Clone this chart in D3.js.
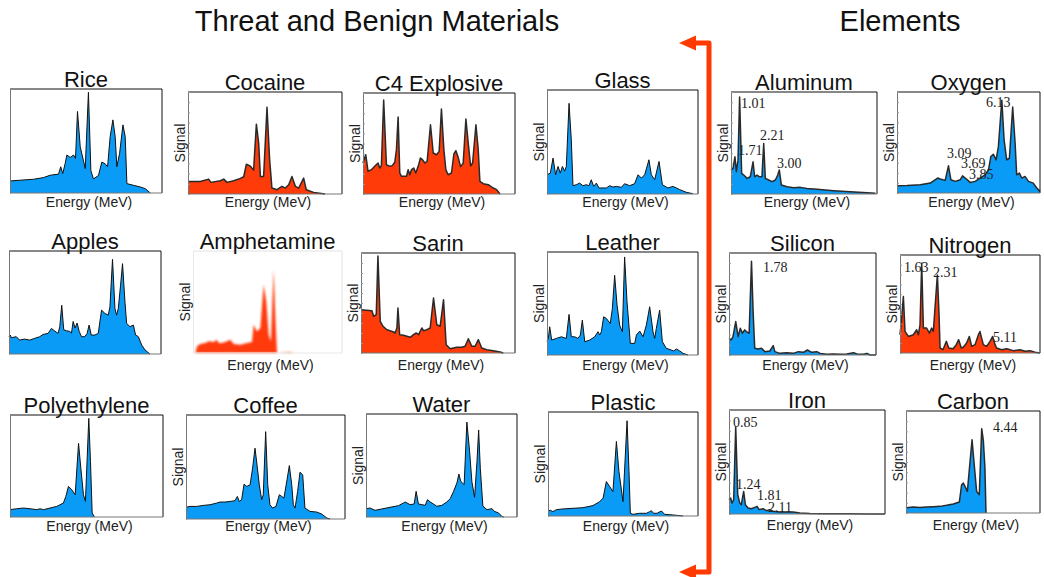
<!DOCTYPE html>
<html>
<head>
<meta charset="utf-8">
<script src="https://cdn.jsdelivr.net/npm/d3@7/dist/d3.min.js"></script>
<style>
  body { margin: 0; background: #fff; }
  svg { display: block; font-family: "Liberation Sans", Arial, sans-serif; }
</style>
</head>
<body>
<div id="chart"></div>
<script>
// spectra: [energy (% of axis), signal (% of axis)]
const rice = [[0,11.6],[6.6,12.3],[15.4,13.2],[22,14.8],[26.4,17.1],[31.9,18.1],[33.4,25.2],[34.7,18.7],[36.3,28.4],[37.4,36.5],[39.6,34.2],[41.8,36.5],[43.1,33.2],[44.4,78.4],[46.2,44.5],[49.5,23.5],[51.6,96.8],[53.2,21.6],[54.9,13.5],[58.2,16.8],[60.4,29.7],[62.6,28.1],[64.2,25.2],[65.9,54.2],[67.7,70.3],[69.2,54.2],[70.3,25.2],[72.1,38.1],[74.3,65.5],[75.8,54.2],[76.9,9],[81.3,7.4],[85.7,5.8],[89,4.2],[92.3,0]];
const cocaine = [[0,12.3],[8,12.3],[13.4,14.6],[14.9,11.4],[21,13],[23.2,14.6],[25.3,11.4],[29.7,13],[34,15.3],[36.2,16.9],[37.9,29.2],[40.5,27.3],[42.6,23.4],[44.4,68.5],[45.9,49.7],[47,17.2],[49.1,17.2],[51.3,85.1],[53,33.8],[54.5,5.8],[57.8,4.2],[61,7.5],[63.2,5.8],[65.4,9.1],[67.5,17.2],[69.7,7.5],[71.9,5.8],[75.1,15.6],[76.8,4.2],[81.6,1.6],[89,0]];
const c4 = [[0,30.7],[1.8,38.9],[3.3,22.4],[5.5,24.1],[7.7,27.4],[9.9,30.7],[11,25.7],[12.1,28.1],[13.6,93.1],[15.4,29],[17.6,27.4],[19.3,28.1],[20.9,31.4],[22,43.9],[23.1,76.2],[24.2,20.8],[25.3,17.5],[28.6,17.5],[29.7,24.1],[30.8,19.1],[31.9,24.1],[33.4,25.7],[34.7,20.8],[36.3,27.4],[37.8,35.6],[39.1,34],[40.7,30.7],[42.2,32.3],[44.4,68.6],[46.2,40.6],[48.4,38.9],[50.1,42.2],[51.6,84.2],[53.2,43.9],[54.5,24.1],[56,19.1],[58.2,20.8],[59.8,39.6],[61.1,42.9],[62.6,36.3],[64.2,27.1],[65.9,30.4],[67.7,74.3],[69.2,50.8],[70.8,27.7],[72.1,30.7],[74.3,68.6],[75.8,43.9],[76.9,12.5],[79.1,10.2],[82.4,9.2],[85.7,5.9],[87.9,4.3],[90.1,0]];
const glass = [[0,18.5],[2.2,20.1],[4,34.5],[5.7,18.5],[7.3,26.5],[8.8,20.1],[10.2,26.5],[11.7,22],[12.8,26.5],[14.6,87.2],[16.1,52.1],[17.2,8],[19.4,8.9],[21.6,10.5],[23.8,8],[26,8.9],[27.8,8],[29.3,13.7],[30.9,7.3],[32.7,10.5],[34.4,5.8],[37.1,5.8],[39.3,5.8],[41.5,8],[43.7,6.7],[45.9,7.3],[49.2,6.4],[51.4,9.9],[54.7,8],[58,9.9],[60.3,18.5],[62.5,15.3],[64.7,18.5],[67.5,32.9],[69.1,18.5],[71.3,13.7],[74.2,31.3],[76.4,8.9],[80.1,5.8],[83.4,7.3],[85.7,5.8],[87.9,4.2],[92.3,1.6],[96.7,0.3]];
const aluminum = [[0,23.5],[1.4,25.1],[2.7,36.5],[3.7,21.8],[4.8,33.2],[5.9,95],[7.3,20.2],[8.7,18.6],[11,15.3],[13.2,16.9],[15.1,31.6],[16.2,16.9],[17.8,18.6],[19.6,16.9],[21.2,16.9],[22.4,49.5],[23.5,15.3],[25.8,13.7],[28.1,12.1],[30.4,13.7],[32,18.6],[33.1,23.5],[34.5,8.8],[38.4,7.2],[42.9,6.2],[47.5,6.5],[52,5.5],[58.9,4.6],[70.3,3.3],[81.7,2.3],[93.2,1.3],[98.9,0.7]];
const oxygen = [[0,7.2],[7,7.5],[16.3,8.2],[23.3,9.8],[28.4,14.8],[30.2,13.8],[33.7,12.5],[36,26.9],[37.7,13.1],[40.7,11.5],[44.2,13.1],[45.8,17],[47.7,14.8],[51.2,10.5],[54.7,11.5],[58.1,14.8],[61.6,18],[64,23],[65.6,36.1],[67.4,38.4],[69.3,32.8],[70.9,45.9],[73.3,91.8],[74.9,52.5],[76.7,32.8],[78.6,34.4],[80.9,85.2],[82.6,49.2],[83.7,18],[85.6,19.7],[87.2,14.8],[89.5,16.4],[91.9,11.5],[95.3,9.8],[97.7,4.9],[100,1.6]];
const apples = [[0,16.8],[0.9,18.4],[1.5,15.8],[4.8,16.8],[7,13.5],[10.3,14.5],[13.6,13.5],[16.9,15.2],[20.2,16.8],[22.4,19],[25.7,20],[27.9,24.8],[30.1,22.3],[32.3,20],[33.4,26.5],[34.7,47.4],[36,23.5],[37.8,22.6],[40,21.9],[41.1,20.3],[42.2,31.6],[43.5,25.2],[44.8,30],[46.2,21.9],[47.7,16.8],[49.9,16.8],[51.4,20],[52.7,28.1],[54.1,18.4],[56.5,18.4],[58.7,20],[60.9,42.6],[63.1,39.4],[65.3,37.7],[66.4,45.8],[68.1,91.9],[69.7,44.2],[70.8,37.7],[71.9,44.2],[73.4,66.8],[74.7,87.7],[76.3,50.3],[77.4,29.7],[79.6,26.5],[81.8,28.1],[83.3,18.4],[85.1,16.8],[87.3,8.7],[89.5,3.9],[92.7,0]];
const amphetamine = [[1.6,0],[2.7,6.5],[4.9,8.8],[8.3,9.8],[10.5,11.4],[13.9,10.7],[16.1,13],[17.2,9.8],[19.5,9.8],[22.8,11.4],[25.1,13],[27.3,8.8],[31.8,8.1],[36.2,9.8],[39.6,10.7],[40.7,27.7],[42.9,21.2],[45.2,24.4],[47.4,66.8],[49.2,50.5],[50.8,18],[52.3,11.4],[54.1,81.4],[55.5,27.7],[56.4,0],[65.3,0.7],[67.6,0]];
const sarin = [[0,43.3],[7.1,42.3],[8.2,36.7],[9.9,38.3],[11,97],[12.5,31.7],[14.3,26.7],[16.8,23.3],[21.2,21],[22.2,20],[23.3,25],[24,45],[25.1,18.3],[27.6,17.7],[29.8,16.7],[32,15.7],[34.1,18.3],[35.9,20],[37.4,18.3],[39.5,25],[40.6,22.3],[42.8,23.3],[44.9,25],[47.1,55],[49.2,28.3],[51.4,26.7],[53.6,53.3],[55.3,8.3],[57.9,4.3],[62.2,5.7],[65.4,5.7],[67.6,6.7],[69.7,14.3],[71.9,6.7],[74.1,6.7],[76.2,13.3],[78.4,5],[81.6,3.3],[85.9,2.3],[90.3,1],[92.4,0]];
const leather = [[0,13.5],[0.9,16.1],[1.8,27.4],[3.1,14.5],[6.2,16.1],[9.5,17.7],[12.8,16.1],[14.6,39.4],[16.1,17.7],[18.3,17.7],[20.5,16.1],[22.1,19.4],[23.4,33.9],[25,12.9],[28.3,14.5],[31.6,17.7],[33.8,22.6],[34.9,19.4],[36,22.6],[37.5,37.1],[39.3,35.5],[41.9,30.6],[43.3,45.2],[44.8,77.4],[46.4,48.4],[48.1,29],[49.9,22.6],[51.4,95.2],[53,51.6],[55.2,11.3],[58.1,11.3],[59.2,19.4],[61.4,23.2],[63.6,17.7],[65.8,29],[68,46.8],[70.2,22.6],[71.3,16.1],[72.4,25.8],[74.6,43.5],[76.4,12.9],[79,6.5],[82.3,4.8],[83.9,3.9],[85.7,5.8],[87.9,3.9],[90.1,1.6],[93.4,0]];
const silicon = [[0,16.4],[1.6,14.8],[2.7,18],[4.6,32.8],[6.2,18],[7.7,26.2],[9.1,21.3],[10.7,24.6],[11.8,23],[13.7,21.3],[15.3,91.8],[16.4,42.6],[17.5,6.6],[19.8,5.9],[22.1,6.6],[24.4,3.3],[27.8,3.9],[30.1,9.2],[31.2,3.3],[34.6,1.6],[39.2,2.3],[43.7,1.6],[47.2,3.3],[50.6,2.6],[53.3,4.9],[56.3,2.6],[59.7,3.3],[62,1.6],[66.5,0.7],[71.1,1],[75.6,0.7],[80.2,1],[84.7,2.3],[87,1],[91.6,0.7],[93.8,1.6],[96.1,0],[100,0]];
const nitrogen = [[0,18.6],[1.2,35.6],[2.4,57.6],[3.6,22],[6,16.9],[9.5,18.6],[11.9,23.7],[13.1,18.6],[14.3,28.8],[15.5,91.5],[16.7,25.4],[19,25.4],[21,20.3],[22.6,25.4],[23.8,22],[26.7,79.7],[27.9,39],[28.6,5.1],[30.7,3.4],[33.1,11.9],[34.8,5.1],[37.9,4.4],[40.2,8.5],[41.9,13.6],[43.8,5.1],[45.2,5.8],[47.6,10.2],[49.5,16.9],[51.2,6.8],[53.6,8.5],[56,18.6],[57.1,22],[59.5,8.5],[61.9,6.8],[64.3,11.9],[66.2,16.9],[67.9,8.5],[69,5.1],[72.6,3.4],[76.2,4.4],[81,2.4],[85.7,3.4],[89.3,1.7],[92.9,2.4],[96.4,0.7],[100,0]];
const polyethylene = [[0,7.2],[4.4,8.1],[8.7,8.8],[13.1,8.1],[17.5,7.2],[19.7,8.1],[21.8,7.2],[26.2,8.8],[30.6,10.4],[34.9,13.7],[36.5,20.2],[38.2,30],[40.4,26.7],[42.6,21.8],[44.8,72.3],[46.3,47.9],[48,21.8],[49.3,15.3],[51.5,96.7],[52.6,54.4],[53.7,3.9],[55.2,0]];
const coffee = [[0,11.2],[2.5,12.1],[6.7,12.1],[10.9,13.1],[15.1,13.7],[19.3,15.3],[21.4,16.3],[24.5,16.3],[27.7,16.9],[30.8,17.6],[32.3,21.7],[33.5,16.9],[35,18.5],[36.5,33.5],[38.2,31.3],[40.3,32.9],[41.9,48.9],[43.4,68.1],[44.9,48.9],[46.1,32.9],[47.6,18.5],[48.6,23.3],[50.1,84],[51.4,32.9],[52.8,13.7],[54.5,10.5],[56.6,12.1],[58.7,23.3],[60.2,21.7],[61.6,20.1],[63.7,39.3],[65,51.4],[66.5,32.9],[67.5,13.7],[68.6,10.5],[70.2,26.5],[71.7,45],[73.4,42.5],[74.8,10.5],[78,7.3],[82.2,6.7],[85.3,4.8],[88.5,1],[90.6,0]];
const water = [[0,8.1],[2.7,8.7],[6,6.5],[10.4,7.8],[15.9,9.4],[21.5,11],[24.8,13.6],[25.9,14.6],[29.2,12],[31.9,12.6],[33.2,24.9],[34.7,12.6],[37,12],[39.2,11.3],[40.7,16.8],[42.5,14.6],[44.7,12.6],[46.9,10.4],[50.2,11.3],[53.5,14.6],[55.8,17.8],[58,24.9],[60.2,33],[61.5,41.7],[62.8,34.6],[65,31.4],[66.8,92.2],[68.6,63.8],[70.1,34.6],[71.9,19.1],[73.5,54],[74.6,84.5],[75.7,47.3],[77.4,10.7],[80.1,7.1],[83.4,8.1],[85,5.5],[87.8,3.9],[90,0.6],[91.2,0]];
const plastic = [[0,4.8],[1.6,5.5],[3.3,4.2],[5.6,6.1],[10,6.8],[16.7,7.4],[23.3,8],[30,10],[34.4,13.8],[36.7,17],[38.9,33.1],[41.1,28.3],[43.3,23.5],[45.6,71.7],[47.3,42.8],[50,13.8],[52.7,91.6],[54,42.8],[54.9,2.6],[56.7,1.6],[61.1,2.6],[65.6,2.6],[67.8,4.2],[68.9,5.1],[70.4,2.6],[72.7,2.6],[75.6,4.8],[77.8,1.6],[83.3,1],[90,0]];
const iron = [[0,13.7],[1.1,15.3],[1.9,10.5],[3,13.7],[4.3,84],[5.6,18.5],[6.9,10.5],[7.9,8.9],[9.4,21.7],[10.5,8.9],[12.2,5.8],[14.3,5.1],[16.5,6.4],[18,7.3],[19.3,4.2],[21.8,5.1],[24,3.2],[26.1,4.2],[28.3,2.6],[32.5,1.9],[36.8,1.9],[41.1,1.9],[45.4,1],[51.8,0.6],[62.5,0.3],[77.5,0.3],[88.2,0],[100,0]];
const carbon = [[0,4.9],[1.7,5.5],[5.5,5.9],[10.4,5.5],[15.4,5.9],[20.4,6.2],[25.4,6.5],[30.3,7.5],[35.3,8.8],[39.8,10.7],[41.5,27.7],[42.8,29.3],[44,26.1],[45.8,21.2],[47.8,50.5],[49.3,71.7],[50.7,50.5],[52.7,21.2],[54.7,17.9],[56.5,82.7],[57.7,71.3],[58.9,44.6],[59.7,0]];

// gamma line labels (MeV) with their anchor in the same energy/signal units
const aluminumLines = [["1.01",6.8,84.3],["1.71",4.8,38.2],["2.21",19.9,52.9],["3.00",31.5,25.5]];
const oxygenLines = [["6.13",62.2,85.1],["3.09",35,34.7],["3.69",44.8,24.8],["3.85",50.3,13.9]];
const siliconLines = [["1.78",23.1,81.4]];
const nitrogenLines = [["1.63",2.9,82.7],["2.31",23.6,77.6],["5.11",66.4,11.2]];
const ironLines = [["0.85",2.6,83.7],["1.24",4.5,24],["1.81",17.9,13.5],["2.11",25,1.9]];
const carbonLines = [["4.44",64.9,79.4]];

const BLUE = "#0a9bf6", RED = "#ff3b0a", ARROW = "#ff3a00";

// layout: style "plain" = crisp outline, "soft" = blurred outline, "faded" = blurred fill only
const panels = [
  {title: "Rice", data: rice, x: 10, y: 89, w: 152, h: 104, fill: BLUE, style: "plain", signal: false, energy: 207},
  {title: "Cocaine", data: cocaine, x: 188, y: 92, w: 154, h: 102, fill: RED, style: "soft", signal: true, energy: 207},
  {title: "C4 Explosive", data: c4, x: 363, y: 93, w: 152, h: 101, fill: RED, style: "soft", signal: true, energy: 207},
  {title: "Glass", data: glass, x: 547, y: 90, w: 151, h: 104, fill: BLUE, style: "plain", signal: true, energy: 207},
  {title: "Aluminum", data: aluminum, x: 731, y: 92, w: 146, h: 102, fill: BLUE, style: "soft", signal: true, energy: 207, lines: aluminumLines},
  {title: "Oxygen", data: oxygen, x: 897, y: 92, w: 143, h: 101, fill: BLUE, style: "soft", signal: true, energy: 207, lines: oxygenLines},
  {title: "Apples", data: apples, x: 9, y: 251, w: 152, h: 103, fill: BLUE, style: "plain", signal: false, energy: null},
  {title: "Amphetamine", data: amphetamine, x: 193, y: 251, w: 149, h: 102, fill: RED, style: "faded", signal: true, energy: 370},
  {title: "Sarin", data: sarin, x: 361, y: 253, w: 154, h: 100, fill: RED, style: "soft", signal: true, energy: 370},
  {title: "Leather", data: leather, x: 547, y: 252, w: 151, h: 103, fill: BLUE, style: "plain", signal: true, energy: 370},
  {title: "Silicon", data: silicon, x: 729, y: 253, w: 147, h: 102, fill: BLUE, style: "soft", signal: true, energy: 370, lines: siliconLines},
  {title: "Nitrogen", data: nitrogen, x: 900, y: 255, w: 140, h: 98, fill: RED, style: "soft", signal: true, energy: 370, lines: nitrogenLines},
  {title: "Polyethylene", data: polyethylene, x: 10, y: 415, w: 153, h: 102, fill: BLUE, style: "plain", signal: false, energy: 531},
  {title: "Coffee", data: coffee, x: 186, y: 415, w: 159, h: 104, fill: BLUE, style: "plain", signal: true, energy: 531},
  {title: "Water", data: water, x: 366, y: 414, w: 151, h: 103, fill: BLUE, style: "plain", signal: true, energy: 531},
  {title: "Plastic", data: plastic, x: 548, y: 412, w: 150, h: 104, fill: BLUE, style: "plain", signal: true, energy: 531},
  {title: "Iron", data: iron, x: 729, y: 410, w: 156, h: 104, fill: BLUE, style: "soft", signal: true, energy: 530, lines: ironLines},
  {title: "Carbon", data: carbon, x: 906, y: 411, w: 134, h: 102, fill: BLUE, style: "soft", signal: true, energy: 530, lines: carbonLines}
];

const svg = d3.select("#chart").append("svg")
  .attr("width", 1044)
  .attr("height", 577);

const defs = svg.append("defs");
defs.append("filter").attr("id", "soft").attr("x", "-5%").attr("y", "-5%").attr("width", "110%").attr("height", "110%")
  .append("feGaussianBlur").attr("stdDeviation", 0.7);
defs.append("filter").attr("id", "faded").attr("x", "-5%").attr("y", "-5%").attr("width", "110%").attr("height", "110%")
  .append("feGaussianBlur").attr("stdDeviation", 0.8);

// headings
svg.append("text").attr("x", 377).attr("y", 31).attr("text-anchor", "middle")
  .attr("font-size", 29).attr("fill", "#111").text("Threat and Benign Materials");
svg.append("text").attr("x", 900).attr("y", 31).attr("text-anchor", "middle")
  .attr("font-size", 29).attr("fill", "#111").text("Elements");

panels.forEach(p => {
  const g = svg.append("g").attr("transform", `translate(${p.x},${p.y})`);

  const xScale = d3.scaleLinear().domain([0, 100]).range([0, p.w]);
  const yScale = d3.scaleLinear().domain([0, 100]).range([p.h, 0]);

  const area = d3.area()
    .x(d => xScale(d[0]))
    .y0(p.h)
    .y1(d => yScale(d[1]));
  const line = d3.line()
    .x(d => xScale(d[0]))
    .y(d => yScale(d[1]));

  g.append("path")
    .attr("d", area(p.data))
    .attr("fill", p.fill)
    .attr("filter", p.style === "faded" ? "url(#faded)" : null);

  if (p.style === "plain") {
    g.append("path").attr("d", line(p.data))
      .attr("fill", "none").attr("stroke", "#111").attr("stroke-width", 1)
      .attr("stroke-linejoin", "round");
  } else if (p.style === "soft") {
    g.append("path").attr("d", line(p.data))
      .attr("fill", "none").attr("stroke", "#2a2a2a").attr("stroke-width", 1.5)
      .attr("stroke-linejoin", "round").attr("filter", "url(#soft)");
  }

  // frame
  const frame = p.style === "faded" ? "#e2e2e2" : "#111";
  const side = p.style === "faded" ? "#e8e8e8" : "#777";
  g.append("line").attr("x1", 0).attr("x2", p.w).attr("y1", 0).attr("y2", 0).attr("stroke", frame);
  g.append("line").attr("x1", p.w).attr("x2", p.w).attr("y1", 0).attr("y2", p.h).attr("stroke", frame);
  g.append("line").attr("x1", 0).attr("x2", p.w).attr("y1", p.h).attr("y2", p.h).attr("stroke", side);

  const yAxis = g.append("g")
    .call(d3.axisRight(yScale).ticks(10).tickSize(p.style === "soft" ? 2 : 0).tickFormat(""));
  yAxis.select(".domain").attr("stroke", side);
  yAxis.selectAll(".tick line").attr("stroke", "#999");

  g.append("text")
    .attr("x", p.w / 2).attr("y", -2)
    .attr("text-anchor", "middle").attr("font-size", 22).attr("fill", "#111")
    .text(p.title);

  if (p.signal) {
    g.append("text")
      .attr("transform", `translate(-3,${p.h / 2}) rotate(-90)`)
      .attr("text-anchor", "middle").attr("font-size", 14).attr("fill", "#222")
      .text("Signal");
  }
  if (p.energy) {
    g.append("text")
      .attr("x", p.w / 2 + 3).attr("y", p.energy - p.y)
      .attr("text-anchor", "middle").attr("font-size", 14).attr("fill", "#222")
      .text("Energy (MeV)");
  }

  if (p.lines) {
    g.selectAll(".peak")
      .data(p.lines)
      .join("text")
      .attr("class", "peak")
      .attr("x", d => xScale(d[1]))
      .attr("y", d => yScale(d[2]))
      .attr("font-family", "'Liberation Serif', 'DejaVu Serif', serif")
      .attr("font-size", 14)
      .attr("fill", "#222")
      .text(d => d[0]);
  }
});

// red double arrow separating the two groups
const arrow = svg.append("g");
arrow.append("path")
  .attr("d", "M692,43 H709 V572 H692")
  .attr("fill", "none").attr("stroke", ARROW).attr("stroke-width", 5)
  .attr("stroke-linejoin", "round");
arrow.append("path").attr("d", "M679,43 L696,35.5 L696,50.5 Z").attr("fill", ARROW);
arrow.append("path").attr("d", "M679,572 L696,564.5 L696,579.5 Z").attr("fill", ARROW);
</script>
</body>
</html>
